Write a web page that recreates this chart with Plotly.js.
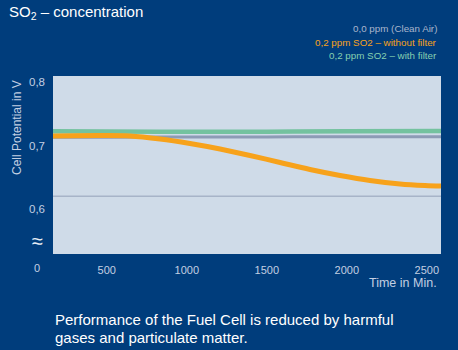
<!DOCTYPE html>
<html>
<head>
<meta charset="utf-8">
<script src="https://cdn.plot.ly/plotly-3.0.1.min.js"></script>
<style>html,body{margin:0;padding:0;background:#003d7c;}#chart{width:458px;height:350px;}</style>
</head>
<body>
<div id="chart"></div>
<script>
// Time in minutes
const timeOrange = [164, 458, 645, 833, 1020, 1208, 1395, 1583, 1770, 1958, 2145, 2333, 2489, 2589];
const orangeVals = [0.715, 0.7157, 0.715, 0.7102, 0.7031, 0.6945, 0.6843, 0.6732, 0.6622, 0.6528, 0.6449, 0.6394, 0.637, 0.6362];
const timeFlat = [164, 500, 1000, 1500, 2000, 2589];
const cleanAirVals = [0.7129, 0.7131, 0.7133, 0.7135, 0.7137, 0.7139];
const filterVals = [0.7222, 0.7220, 0.7217, 0.7218, 0.7222, 0.7228];
const refLevel = 0.62;
const yTickVals = [0.6, 0.7, 0.8];
const yTickText = ['0,6', '0,7', '0,8'];
const xTickVals = [500, 1000, 1500, 2000, 2500];
const xTickText = ['500', '1000', '1500', '2000', '2500'];
const seriesNames = ['0,0 ppm (Clean Air)', '0,2 ppm SO2 – without filter', '0,2 ppm SO2 – with filter'];

const colGray = '#8d9bb5', colOrange = '#f7a21b', colGreen = '#74c29f';
const font = 'Liberation Sans, Arial, sans-serif';
const px = (x) => (x - 53) / 388;
const py = (y) => (254 - y) / 178;

const traces = [
  {x: [timeFlat[0], timeFlat[timeFlat.length-1]], y: [refLevel, refLevel], mode: 'lines', line: {color: '#a7b4c8', width: 1.5}, hoverinfo: 'skip'},
  {x: timeFlat, y: cleanAirVals, mode: 'lines', name: seriesNames[0], line: {color: colGray, width: 3, shape: 'spline'}},
  {x: timeFlat, y: filterVals, mode: 'lines', name: seriesNames[2], line: {color: colGreen, width: 4.5, shape: 'spline'}},
  {x: timeOrange, y: orangeVals, mode: 'lines', name: seriesNames[1], line: {color: colOrange, width: 5, shape: 'spline', smoothing: 1}}
];

const layout = {
  width: 458, height: 350,
  paper_bgcolor: '#003d7c', plot_bgcolor: '#cfdbe8',
  margin: {l: 53, r: 17, t: 76, b: 96},
  showlegend: false,
  font: {family: font, color: '#c3cfe2'},
  xaxis: {range: [164, 2589], tickvals: xTickVals, ticktext: xTickText, showgrid: false, zeroline: false,
          showline: false, ticks: '', ticklabelstandoff: 8, tickfont: {size: 11, color: '#c3cfe2'}, fixedrange: true},
  yaxis: {range: [0.5291, 0.8094], tickvals: yTickVals, ticktext: yTickText, showgrid: false, zeroline: false,
          showline: false, ticks: '', ticklabelstandoff: 7, tickfont: {size: 11.5, color: '#c3cfe2'}, fixedrange: true},
  annotations: [
    {xref: 'paper', yref: 'paper', x: px(7), y: py(13), xanchor: 'left', yanchor: 'middle', text: 'SO<sub>2</sub> – concentration', showarrow: false,
     font: {size: 15, color: '#ffffff'}},
    {xref: 'paper', yref: 'paper', x: px(17), y: py(128), xanchor: 'center', yanchor: 'middle', textangle: -90, text: 'Cell Potential in V', showarrow: false, font: {size: 12, color: '#c3cfe2'}},
    {xref: 'paper', yref: 'paper', x: px(439), y: py(29), xanchor: 'right', yanchor: 'middle', text: seriesNames[0], showarrow: false, font: {size: 9.8, color: '#aab6cc'}},
    {xref: 'paper', yref: 'paper', x: px(439), y: py(42.5), xanchor: 'right', yanchor: 'middle', text: seriesNames[1], showarrow: false, font: {size: 9.8, color: colOrange}},
    {xref: 'paper', yref: 'paper', x: px(439), y: py(56), xanchor: 'right', yanchor: 'middle', text: seriesNames[2], showarrow: false, font: {size: 9.8, color: '#86d0b0'}},
    {xref: 'paper', yref: 'paper', x: px(37), y: py(241), xanchor: 'center', yanchor: 'middle', text: '≈', showarrow: false, font: {size: 20, color: '#e8eef6'}},
    {xref: 'paper', yref: 'paper', x: px(37), y: py(268), xanchor: 'center', yanchor: 'middle', text: '0', showarrow: false, font: {size: 11, color: '#c3cfe2'}},
    {xref: 'paper', yref: 'paper', x: px(439), y: py(283), xanchor: 'right', yanchor: 'middle', text: 'Time in Min.', showarrow: false, font: {size: 12.5, color: '#c3cfe2'}},
    {xref: 'paper', yref: 'paper', x: px(53), y: py(319), xanchor: 'left', yanchor: 'middle', text: 'Performance of the Fuel Cell is reduced by harmful', showarrow: false, font: {size: 15, color: '#ffffff'}},
    {xref: 'paper', yref: 'paper', x: px(53), y: py(337), xanchor: 'left', yanchor: 'middle', text: 'gases and particulate matter.', showarrow: false, font: {size: 15, color: '#ffffff'}}
  ]
};

Plotly.newPlot('chart', traces, layout, {displayModeBar: false, staticPlot: true});
</script>
</body>
</html>
